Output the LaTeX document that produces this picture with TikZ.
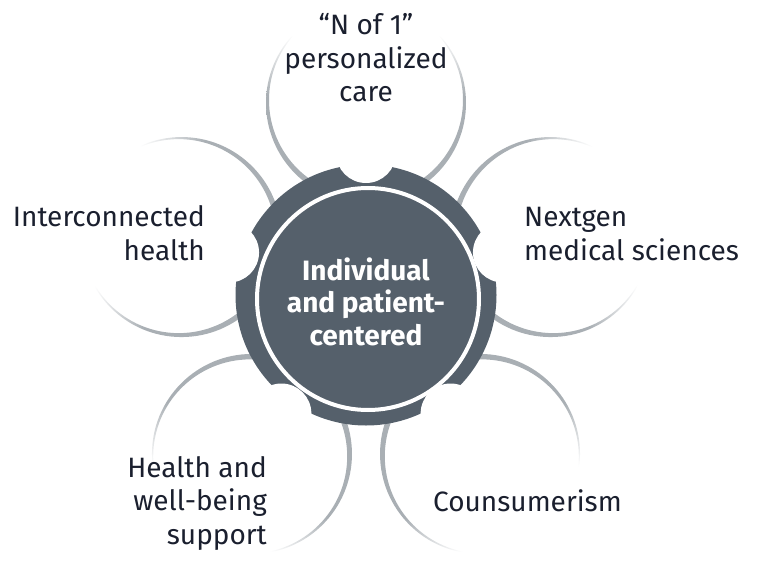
\documentclass[tikz,border=0pt]{standalone}
\usepackage{fontspec}
\setmainfont{Fira Sans}
\usepackage{tikz}
\definecolor{hubgray}{HTML}{55606B}
\definecolor{arcgray}{HTML}{A9AFB4}
\definecolor{labelink}{HTML}{1A1F2E}
\pgfdeclareverticalshading{petalfade}{100bp}{color(0bp)=(white);
  color(33bp)=(white); color(48bp)=(arcgray); color(100bp)=(arcgray)}
\tikzstyle{petal}     = [even odd rule, shading=petalfade]
\tikzstyle{notch}     = [fill=white]
\tikzstyle{spoketext} = [inner sep=0pt, text=labelink,
                         font=\fontsize{28}{33.4}\selectfont]
\tikzstyle{hubtext}   = [inner sep=0pt, text=white, align=center,
                         font=\fontsize{28}{32.2}\selectfont\bfseries]

\begin{document}
\begin{tikzpicture}[x=1pt, y=1pt]
  \useasboundingbox (-366,-265) rectangle (393,297);

  %% Petal arcs (thick towards the hub, fading outwards)
  \shade[petal, shading angle=180] (90:194) circle (100) (90:197) circle (97);
  \shade[petal, shading angle=252] (162:194) circle (100) (162:197) circle (97);
  \shade[petal, shading angle=324] (234:194) circle (100) (234:197) circle (97);
  \shade[petal, shading angle=36] (306:194) circle (100) (306:197) circle (97);
  \shade[petal, shading angle=108] (18:194) circle (100) (18:197) circle (97);

  %% Hub with notches
  \fill[hubgray] (0,2) circle (130.5);
  \fill[notch] (90:144) circle (30);
  \fill[notch] (162:144) circle (30);
  \fill[notch] (234:144) circle (30);
  \fill[notch] (306:144) circle (30);
  \fill[notch] (18:144) circle (30);
  \draw[white, line width=4pt] (2,-2) circle (111);
  \node[hubtext, anchor=base] (hub) at (0,-48) {Individual\\and patient-\\centered};

  %% Labels (base = last line)
  \node[spoketext, align=center, anchor=base] (care) at (0,195.3)
        {“N of 1”\\personalized\\care};
  \node[spoketext, align=right, anchor=base east] (interconn) at (-161,37)
        {Interconnected\\health};
  \node[spoketext, align=left, anchor=base west] (nextgen) at (158,37)
        {Nextgen\\medical sciences};
  \node[spoketext, align=right, anchor=base east] (wellbeing) at (-99,-247)
        {Health and\\well-being\\support};
  \node[spoketext, anchor=base west] (consumer) at (67,-214.7) {Counsumerism};

\end{tikzpicture}
\end{document}
